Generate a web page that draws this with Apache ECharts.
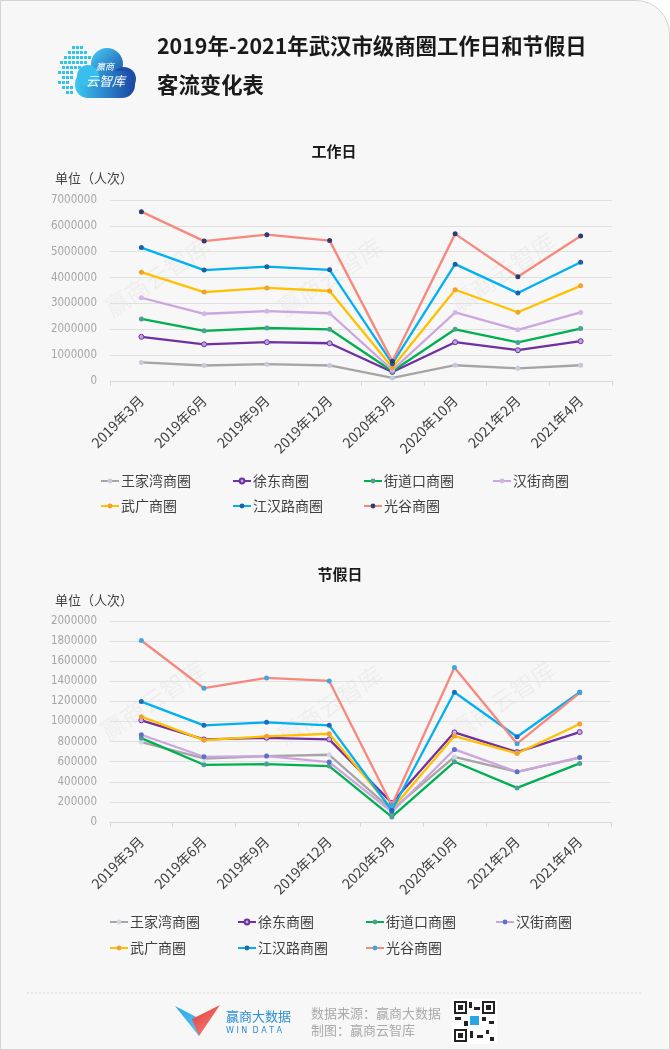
<!DOCTYPE html>
<html><head><meta charset="utf-8">
<script src="https://cdn.jsdelivr.net/npm/echarts@6/dist/echarts.min.js"></script>
<style>
html,body{margin:0;padding:0;background:#fff;}
#card{position:absolute;left:0;top:0;width:670px;height:1050px;box-sizing:border-box;border:1px solid #d3d3d3;border-top-right-radius:34px;background:#f7f7f7;overflow:hidden;}
#c1{position:absolute;left:0;top:0;width:670px;height:540px;}
#c2{position:absolute;left:0;top:540px;width:670px;height:510px;}
</style></head>
<body>
<div id="card"></div>
<div id="c1"></div>
<div id="c2"></div>
<script>
const categories = ['2019年3月','2019年6月','2019年9月','2019年12月','2020年3月','2020年10月','2021年2月','2021年4月'];
const seriesNames = ['王家湾商圈','徐东商圈','街道口商圈','汉街商圈','武广商圈','江汉路商圈','光谷商圈'];
const yTicksWork = [0,1000000,2000000,3000000,4000000,5000000,6000000,7000000];
const yTicksHoliday = [0,200000,400000,600000,800000,1000000,1200000,1400000,1600000,1800000,2000000];

// 工作日
const workWangjiawan = [720000, 600000, 650000, 600000, 120000, 610000, 490000, 610000];
const workXudong     = [1710000,1420000,1500000,1460000,350000,1500000,1190000,1540000];
const workJiedaokou  = [2400000,1940000,2050000,2000000,380000,2000000,1490000,2030000];
const workHanjie     = [3220000,2600000,2700000,2620000,420000,2650000,1980000,2650000];
const workWuguang    = [4210000,3440000,3600000,3480000,520000,3530000,2660000,3680000];
const workJianghanlu = [5160000,4290000,4420000,4300000,670000,4520000,3400000,4590000];
const workGuanggu    = [6550000,5410000,5660000,5430000,760000,5690000,4030000,5610000];

// 节假日
const holWangjiawan = [795000, 632000, 656000, 669000, 120000, 649000, 499000, 640000];
const holXudong     = [1012000, 822000, 838000, 822000, 190000, 892000, 696000, 895000];
const holJiedaokou  = [835000, 569000, 576000, 556000, 50000, 599000, 339000, 583000];
const holHanjie     = [868000, 649000, 656000, 596000, 100000, 722000, 499000, 643000];
const holWuguang    = [1048000, 815000, 852000, 878000, 130000, 855000, 682000, 975000];
const holJianghanlu = [1198000, 962000, 992000, 962000, 117000, 1291000, 848000, 1291000];
const holGuanggu    = [1806000, 1331000, 1434000, 1404000, 167000, 1537000, 779000, 1285000];

const lineColors = ['#A5A5A5','#7030A0','#00B050','#CCA5DE','#FFC000','#00B0F0','#F8877C'];
const markWork = ['#c6cade','#b9a5e3','#4aa093','#d2b6e6','#f5a02a','#1f5fa8','#2c3c72'];
const markHol  = ['#d3d6e2','#c2b1e8','#4aa093','#5b72c8','#f5a02a','#1e6cb5','#3fa6e2'];

const workData = [workWangjiawan, workXudong, workJiedaokou, workHanjie, workWuguang, workJianghanlu, workGuanggu];
const holData = [holWangjiawan, holXudong, holJiedaokou, holHanjie, holWuguang, holJianghanlu, holGuanggu];

const CJK = '"Noto Sans CJK SC", "Noto Sans", sans-serif';

function makeSeries(data, marks){
  return seriesNames.map((n,i)=>({
    name:n, type:'line', data:data[i], symbol:'circle', symbolSize:5, showAllSymbol:true,
    lineStyle:{color:lineColors[i], width:2.3},
    itemStyle:{color:marks[i], borderColor: i===1 ? '#7030A0' : marks[i], borderWidth: i===1 ? 1 : 0},
    z: 2 + i
  }));
}

function makeLegends(cols, topY, gap){
  const groups = [[seriesNames[0],seriesNames[4]],[seriesNames[1],seriesNames[5]],[seriesNames[2],seriesNames[6]],[seriesNames[3]]];
  return groups.map((g,k)=>({
    orient:'vertical', left:cols[k], top:topY, itemGap:gap, itemWidth:18, itemHeight:6,
    data:g, selectedMode:false,
    textStyle:{fontSize:14, color:'#404040', fontFamily:CJK, padding:[0,0,0,-3]}
  }));
}

function watermarks(ys){
  return ys.map(p=>({type:'text', x:p[0], y:p[1], rotation:Math.PI*34/180, silent:true,
    style:{text:'赢商云智库', fontSize:24, fill:'rgba(0,0,0,0.04)', fontFamily:CJK, align:'center', verticalAlign:'middle'}, z:0}));
}

function axes(max, interval, ticks){
  return {
    xAxis:{type:'category', data:categories, boundaryGap:true,
      axisLine:{lineStyle:{color:'#d9d9d9'}}, axisTick:{show:true, length:5, lineStyle:{color:'#d9d9d9'}},
      axisLabel:{rotate:45, fontSize:14, color:'#404040', fontFamily:CJK, margin:17, interval:0}},
    yAxis:{type:'value', min:ticks[0], max:max, interval:interval,
      axisLine:{show:false}, axisTick:{show:false},
      splitLine:{lineStyle:{color:'#e0e0e0', width:1}},
      axisLabel:{fontSize:11.5, color:'#a6a6a6', fontFamily:'"DejaVu Sans Condensed", "Liberation Sans", sans-serif', margin:13,
        formatter:v=>String(v)}}
  };
}

// Logo dots (decorative)
const logoDots = [[72,46],[76,46],[80,46],[68,51],[72,51],[76,51],[80,51],[84,51],[64,56],[68,56],[72,56],[76,56],[80,56],[84,56],[88,56],
  [60,61],[64,61],[68,61],[72,61],[76,61],[80,61],[84,61],[62,66],[66,66],[70,66],[74,66],[78,66],[58,71],[62,71],[66,71],[70,71],
  [62,76],[66,76],[70,76],[58,81],[62,81],[66,81],[62,86],[66,86],[70,86],[66,91],[70,91]];

const chart1 = echarts.init(document.getElementById('c1'), null, {renderer:'canvas'});
const a1 = axes(7000000, 1000000, yTicksWork);
chart1.setOption({
  animation:false,
  backgroundColor:'transparent',
  grid:{left:110, top:200, width:502, height:181},
  xAxis:a1.xAxis, yAxis:a1.yAxis,
  legend: makeLegends([95,227,358,487], 469, 11),
  series: makeSeries(workData, markWork),
  graphic: [
    ...watermarks([[157,277],[330,277],[503,272]]),
    ...logoDots.map(d=>({type:'rect', shape:{x:d[0],y:d[1],width:3,height:3}, style:{fill:'#33c4ee'}, silent:true})),
    {type:'group', silent:true, children:[
      {type:'circle', shape:{cx:107,cy:64,r:16}, style:{fill:new echarts.graphic.LinearGradient(0,0,1,1,[{offset:0,color:'#46cff6'},{offset:1,color:'#1c4aa6'}])}},
      {type:'circle', shape:{cx:124,cy:79,r:12}, style:{fill:'#1d4fa8'}},
      {type:'rect', shape:{x:75,y:71,width:60,height:27,r:13}, style:{fill:new echarts.graphic.LinearGradient(0,0,1,0,[{offset:0,color:'#3cc8f2'},{offset:1,color:'#1b45a2'}])}},
      {type:'circle', shape:{cx:88,cy:76,r:11}, style:{fill:'#38bdec'}},
      {type:'text', x:96, y:62, style:{text:'赢商', fontSize:9, fill:'#fff', fontFamily:CJK, fontStyle:'italic'}},
      {type:'text', x:86, y:75, style:{text:'云智库', fontSize:13, fill:'#fff', fontFamily:CJK, fontStyle:'italic'}}
    ]},
    {type:'text', left:157, top:35, style:{text:'2019年-2021年武汉市级商圈工作日和节假日', fontSize:21.4, fontWeight:'bold', fill:'#1a1a1a', fontFamily:CJK}},
    {type:'text', left:157, top:74, style:{text:'客流变化表', fontSize:21.4, fontWeight:'bold', fill:'#1a1a1a', fontFamily:CJK}},
    {type:'text', x:334, y:151, style:{text:'工作日', fontSize:15, fontWeight:'bold', fill:'#1a1a1a', fontFamily:CJK, align:'center', verticalAlign:'middle'}},
    {type:'text', x:55, y:178, style:{text:'单位（人次）', fontSize:13, fill:'#404040', fontFamily:CJK, verticalAlign:'middle'}}
  ]
});

const chart2 = echarts.init(document.getElementById('c2'), null, {renderer:'canvas'});
const a2 = axes(2000000, 200000, yTicksHoliday);
const OY = 540;
chart2.setOption({
  animation:false,
  backgroundColor:'transparent',
  grid:{left:110, top:621-OY, width:501, height:201},
  xAxis:a2.xAxis, yAxis:a2.yAxis,
  legend: makeLegends([104,232,360,490], 910-OY, 12),
  series: makeSeries(holData, markHol),
  graphic: [
    ...watermarks([[153,700-OY],[330,705-OY],[503,700-OY]]),
    {type:'text', x:340, y:574-OY, style:{text:'节假日', fontSize:15, fontWeight:'bold', fill:'#1a1a1a', fontFamily:CJK, align:'center', verticalAlign:'middle'}},
    {type:'text', x:55, y:600-OY, style:{text:'单位（人次）', fontSize:13, fill:'#404040', fontFamily:CJK, verticalAlign:'middle'}},
    {type:'line', shape:{x1:27,y1:993-OY,x2:641,y2:993-OY}, style:{stroke:'#dcdcdc', lineWidth:1, lineDash:[2,2]}, silent:true},
    {type:'polygon', shape:{points:[[175,1006-OY],[199,1036-OY],[204,1021-OY]]}, style:{fill:new echarts.graphic.LinearGradient(0,0,1,1,[{offset:0,color:'#2aa6e8'},{offset:1,color:'#5fc4f0'}])}, silent:true},
    {type:'polygon', shape:{points:[[220,1005-OY],[199,1036-OY],[192,1019-OY]]}, style:{fill:new echarts.graphic.LinearGradient(0,0,1,1,[{offset:0,color:'#e23b33'},{offset:1,color:'#f08a86'}])}, silent:true},
    {type:'text', x:226, y:1016-OY, style:{text:'赢商大数据', fontSize:13, fill:'#2b8fd8', fontFamily:CJK, verticalAlign:'middle'}},
    {type:'text', x:226, y:1031-OY, style:{text:'W I N  D A T A', fontSize:8, fill:'#2b8fd8', fontFamily:'"DejaVu Sans", sans-serif', verticalAlign:'middle'}},
    {type:'text', x:311, y:1013-OY, style:{text:'数据来源：赢商大数据', fontSize:13, fill:'#aaaaaa', fontFamily:CJK, verticalAlign:'middle'}},
    {type:'text', x:311, y:1030-OY, style:{text:'制图：赢商云智库', fontSize:13, fill:'#aaaaaa', fontFamily:CJK, verticalAlign:'middle'}},
    {type:'group', x:452, y:999-OY, silent:true, children:[
      {type:'rect', shape:{x:0,y:0,width:45,height:45}, style:{fill:'#fff'}},
      {type:'rect', shape:{x:3,y:3,width:11,height:11}, style:{fill:'none', stroke:'#222', lineWidth:2}},
      {type:'rect', shape:{x:31,y:3,width:11,height:11}, style:{fill:'none', stroke:'#222', lineWidth:2}},
      {type:'rect', shape:{x:3,y:31,width:11,height:11}, style:{fill:'none', stroke:'#222', lineWidth:2}},
      {type:'rect', shape:{x:6,y:6,width:5,height:5}, style:{fill:'#222'}},
      {type:'rect', shape:{x:34,y:6,width:5,height:5}, style:{fill:'#222'}},
      {type:'rect', shape:{x:6,y:34,width:5,height:5}, style:{fill:'#222'}},
      {type:'rect', shape:{x:17,y:3,width:3,height:6}, style:{fill:'#222'}},
      {type:'rect', shape:{x:22,y:8,width:6,height:3}, style:{fill:'#222'}},
      {type:'rect', shape:{x:3,y:18,width:6,height:3}, style:{fill:'#222'}},
      {type:'rect', shape:{x:12,y:22,width:4,height:5}, style:{fill:'#222'}},
      {type:'rect', shape:{x:30,y:18,width:4,height:4}, style:{fill:'#222'}},
      {type:'rect', shape:{x:37,y:22,width:5,height:3}, style:{fill:'#222'}},
      {type:'rect', shape:{x:18,y:32,width:3,height:7}, style:{fill:'#222'}},
      {type:'rect', shape:{x:25,y:36,width:6,height:3}, style:{fill:'#222'}},
      {type:'rect', shape:{x:34,y:31,width:3,height:4}, style:{fill:'#222'}},
      {type:'rect', shape:{x:38,y:38,width:4,height:4}, style:{fill:'#222'}},
      {type:'rect', shape:{x:18,y:17,width:9,height:9}, style:{fill:'#2aa6e8'}}
    ]}
  ]
});
</script>
</body></html>
